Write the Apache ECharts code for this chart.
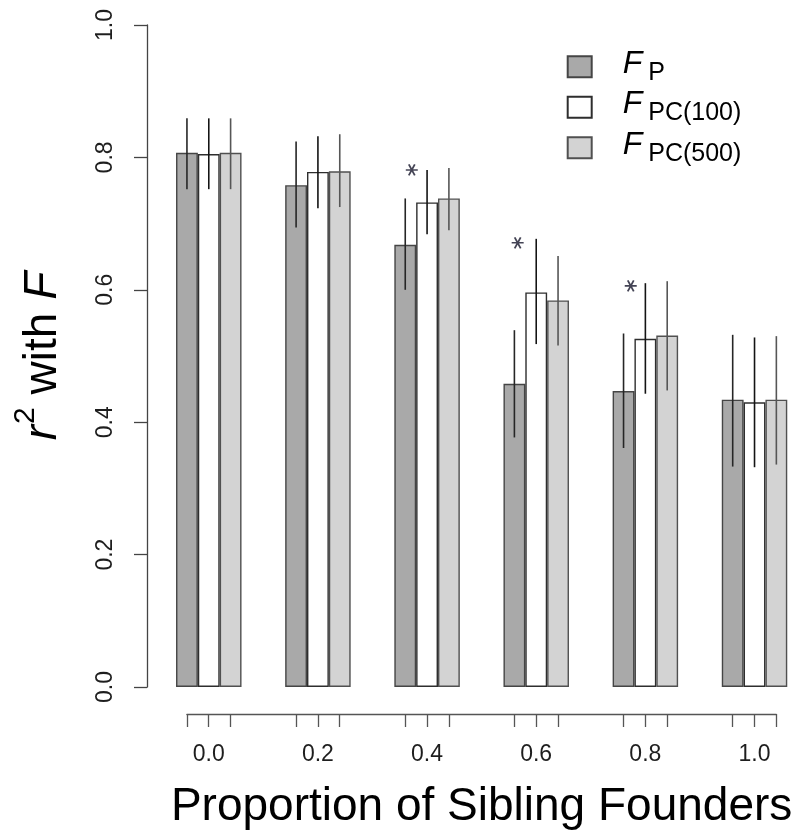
<!DOCTYPE html>
<html>
<head>
<meta charset="utf-8">
<script src="https://cdn.jsdelivr.net/npm/echarts@6/dist/echarts.min.js"></script>
<style>
  html, body { margin: 0; padding: 0; background: #fff; }
  #chart { width: 796px; height: 831px; }
</style>
</head>
<body>
<div id="chart"></div>
<script>
// Proportion of sibling founders (group labels on the x axis)
const groupLabels = ['0.0', '0.2', '0.4', '0.6', '0.8', '1.0'];

// r^2 with F for each estimator, with interval bounds
const fP      = [0.807, 0.758, 0.668, 0.458, 0.447, 0.434];
const fPLow   = [0.752, 0.694, 0.600, 0.377, 0.361, 0.333];
const fPHigh  = [0.859, 0.824, 0.738, 0.539, 0.534, 0.532];

const fPC100     = [0.805, 0.778, 0.732, 0.596, 0.526, 0.430];
const fPC100Low  = [0.752, 0.723, 0.684, 0.518, 0.443, 0.332];
const fPC100High = [0.859, 0.832, 0.781, 0.677, 0.610, 0.528];

const fPC500     = [0.807, 0.779, 0.738, 0.584, 0.531, 0.434];
const fPC500Low  = [0.752, 0.725, 0.690, 0.516, 0.448, 0.336];
const fPC500High = [0.859, 0.835, 0.784, 0.651, 0.613, 0.530];

// significance markers (x in bar-slot units, y in r^2)
const starX = [12.80, 17.65, 22.83];
const starY = [0.781, 0.671, 0.606];

const yTicks = [0, 0.2, 0.4, 0.6, 0.8, 1.0];

// Bars sit in slots of width 1, three per group, with two empty slots between groups
const GROUP_STEP = 5;
const FIRST_CENTER = 2.5;
const slot = (g, j) => FIRST_CENTER + GROUP_STEP * g + j;

const estimators = [
  { name: 'F_P',       values: fP,     low: fPLow,     high: fPHigh,     fill: '#a9a9a9', border: '#454545', err: '#262626' },
  { name: 'F_PC(100)', values: fPC100, low: fPC100Low, high: fPC100High, fill: '#ffffff', border: '#2e2e2e', err: '#141414' },
  { name: 'F_PC(500)', values: fPC500, low: fPC500Low, high: fPC500High, fill: '#d3d3d3', border: '#505050', err: '#565656' }
];

const X_MIN = 1, X_MAX = 30.4;
const UNIT_PX = 21.83;
const series = [];

estimators.forEach((est, j) => {
  series.push({
    name: est.name,
    type: 'bar',
    xAxisIndex: 0,
    yAxisIndex: 0,
    barWidth: UNIT_PX,
    barGap: '-100%',
    itemStyle: { color: est.fill, borderColor: est.border, borderWidth: 1.4 },
    emphasis: { disabled: true },
    data: est.values.map((v, g) => [slot(g, j), v]),
    z: 2
  });
});

estimators.forEach((est, j) => {
  series.push({
    name: est.name + ' interval',
    type: 'custom',
    xAxisIndex: 0,
    yAxisIndex: 0,
    silent: true,
    renderItem: (params, api) => {
      const x = api.value(0);
      const a = api.coord([x, api.value(1)]);
      const b = api.coord([x, api.value(2)]);
      return {
        type: 'line',
        shape: { x1: a[0], y1: a[1], x2: b[0], y2: b[1] },
        style: { stroke: est.err, lineWidth: 1.6 }
      };
    },
    data: est.low.map((lo, g) => [slot(g, j), lo, est.high[g]]),
    z: 5
  });
});

series.push({
  name: 'significant',
  type: 'scatter',
  xAxisIndex: 0,
  yAxisIndex: 0,
  silent: true,
  symbol: 'path://M-10,0L10,0M-5,-8.66L5,8.66M-5,8.66L5,-8.66',
  symbolSize: [12, 11],
  itemStyle: { color: 'none', borderColor: '#15152a', borderWidth: 1.7 },
  data: starX.map((x, i) => [x, starY[i]]),
  z: 6
});

const legendRich = {
  f: { fontFamily: 'Liberation Sans', fontStyle: 'italic', fontSize: 32, color: '#000', padding: [0, 0, 6, 26] },
  s: { fontFamily: 'Liberation Sans', fontSize: 25, color: '#000', padding: [12, 0, 0, 6] }
};

const option = {
  animation: false,
  backgroundColor: '#fff',
  grid: [
    { left: 154.2, width: (X_MAX - X_MIN) * UNIT_PX, top: 25, bottom: 144, containLabel: false },
    { left: 186.9, width: 589.4, top: 713, height: 1, containLabel: false }
  ],
  legend: {
    orient: 'vertical',
    left: 566.7,
    top: 47.7,
    padding: 0,
    itemWidth: 24,
    itemHeight: 21,
    itemGap: 3,
    icon: 'rect',
    selectedMode: false,
    data: estimators.map(e => e.name),
    formatter: name => {
      const sub = name.split('_')[1];
      return '{f|F}{s|' + sub + '}';
    },
    textStyle: { rich: legendRich }
  },
  xAxis: [
    { type: 'value', gridIndex: 0, min: X_MIN, max: X_MAX, show: false },
    {
      type: 'value',
      gridIndex: 1,
      min: FIRST_CENTER,
      max: slot(groupLabels.length - 1, 2),
      position: 'bottom',
      splitLine: { show: false },
      axisLine: { show: true, lineStyle: { color: '#555', width: 1.3 } },
      axisTick: {
        show: true,
        length: 13,
        customValues: groupLabels.flatMap((_, g) => [slot(g, 0), slot(g, 1), slot(g, 2)]),
        lineStyle: { color: '#555', width: 1.3 }
      },
      axisLabel: {
        show: true,
        customValues: groupLabels.map((_, g) => slot(g, 1)),
        formatter: v => groupLabels[Math.round((v - slot(0, 1)) / GROUP_STEP)],
        fontFamily: 'Liberation Sans',
        fontSize: 23,
        color: '#1e1e1e',
        margin: 29
      },
      name: 'Proportion of Sibling Founders',
      nameLocation: 'middle',
      nameGap: 70,
      nameTextStyle: { fontFamily: 'Liberation Sans', fontSize: 46, color: '#000' }
    }
  ],
  yAxis: [
    {
      type: 'value',
      gridIndex: 0,
      min: 0,
      max: 1,
      interval: 0.2,
      offset: 7.2,
      splitLine: { show: false },
      axisLine: { show: true, lineStyle: { color: '#444', width: 1.3 } },
      axisTick: { show: true, length: 13, lineStyle: { color: '#444', width: 1.3 } },
      axisLabel: {
        rotate: 90,
        fontFamily: 'Liberation Sans',
        fontSize: 23,
        color: '#1e1e1e',
        margin: 30,
        formatter: v => yTicks.includes(Math.round(v * 10) / 10) ? v.toFixed(1) : ''
      },
      name: '{i|r}{sup|2}{n| with }{i|F}',
      nameLocation: 'middle',
      nameRotate: 90,
      nameGap: 72,
      nameTextStyle: {
        rich: {
          i:   { fontFamily: 'Liberation Sans', fontStyle: 'italic', fontSize: 46, color: '#000' },
          n:   { fontFamily: 'Liberation Sans', fontSize: 46, color: '#000' },
          sup: { fontFamily: 'Liberation Sans', fontSize: 30, color: '#000', padding: [0, 0, 34, 1] }
        }
      }
    },
    { type: 'value', gridIndex: 1, show: false, min: 0, max: 1 }
  ],
  series: series
};

const chart = echarts.init(document.getElementById('chart'), null, { renderer: 'canvas' });
chart.setOption(option);
</script>
</body>
</html>
